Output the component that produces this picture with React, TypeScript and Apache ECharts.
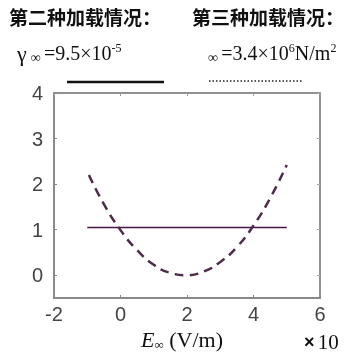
import React, { useEffect, useRef } from "react";
import * as echarts from "echarts";

const lineX = [-1, 5];
const lineY = [1.05, 1.05];
const curveX = [-0.95, -0.5, 0, 0.5, 1, 1.5, 2, 2.5, 3, 3.5, 4, 4.5, 5];
const curveY = [2.2, 1.56, 0.99, 0.55, 0.23, 0.05, 0.0, 0.08, 0.29, 0.62, 1.09, 1.69, 2.42];
const xTicks = [-2, 0, 2, 4, 6];
const yTicks = [0, 1, 2, 3, 4];

export default function App() {
  const ref = useRef<HTMLDivElement>(null);
  useEffect(() => {
    document.body.style.margin = "0";
    const chart = echarts.init(ref.current!, null, { renderer: "svg" });
    const serif = "'Liberation Serif', 'DejaVu Serif', serif";
    const sans = "'Liberation Sans', Arial, sans-serif";
    const cjk = "'Noto Sans CJK SC', sans-serif";
    const tickLabel = { color: "#444", fontSize: 20, fontFamily: sans };
    chart.setOption({
      animation: false,
      grid: {
        show: true, borderColor: "#8a8a8a", borderWidth: 1.5, backgroundColor: "transparent",
        left: 54, top: 93, right: 28, bottom: 62, containLabel: false,
      },
      xAxis: [
        {
          type: "value", min: -2, max: 6, interval: 2,
          axisLine: { show: true, onZero: false, lineStyle: { color: "#808080", width: 1.5 } },
          axisTick: { show: true, inside: true, length: 3, customValues: xTicks, lineStyle: { color: "#888" } },
          axisLabel: { ...tickLabel, margin: 6, customValues: xTicks },
          splitLine: { show: false },
        },
        {
          type: "value", min: -2, max: 6, interval: 2, position: "top",
          axisLine: { show: true, onZero: false, lineStyle: { color: "#8a8a8a", width: 1.5 } },
          axisTick: { show: true, inside: true, length: 3, customValues: xTicks, lineStyle: { color: "#999" } },
          axisLabel: { show: false }, splitLine: { show: false },
        },
      ],
      yAxis: [
        {
          type: "value", min: -0.5, max: 4,
          axisLine: { show: true, onZero: false, lineStyle: { color: "#808080", width: 1.5 } },
          axisTick: { show: true, inside: true, length: 3, customValues: yTicks, lineStyle: { color: "#888" } },
          axisLabel: { ...tickLabel, margin: 11, customValues: yTicks },
          splitLine: { show: false },
        },
        {
          type: "value", min: -0.5, max: 4, position: "right",
          axisLine: { show: true, onZero: false, lineStyle: { color: "#8a8a8a", width: 1.5 } },
          axisTick: { show: true, inside: true, length: 3, customValues: yTicks, lineStyle: { color: "#aaa" } },
          axisLabel: { show: false }, splitLine: { show: false },
        },
      ],
      series: [
        {
          type: "line",
          data: lineX.map((x, i) => [x, lineY[i]]),
          showSymbol: false,
          lineStyle: { color: "#4a1545", width: 1.5 },
        },
        {
          type: "line",
          data: curveX.map((x, i) => [x, curveY[i]]),
          smooth: true,
          showSymbol: false,
          lineStyle: { color: "#4e2a4b", width: 2.5, type: [9, 6] },
        },
      ],
      graphic: [
        { type: "text", left: 9, top: 7, style: { text: "第二种加载情况：", font: `bold 19px ${cjk}`, fill: "#111" } },
        { type: "text", left: 192, top: 7, style: { text: "第三种加载情况：", font: `bold 19px ${cjk}`, fill: "#111" } },
        {
          type: "text", left: 17, top: 42,
          style: {
            text: "{g|γ}{s|∞} {n|=9.5×10}{sup|-5}",
            rich: {
              g: { fontFamily: serif, fontSize: 22, fill: "#111" },
              s: { fontFamily: serif, fontSize: 14, fill: "#111", padding: [8, 0, 0, 4] },
              n: { fontFamily: serif, fontSize: 20, fill: "#111" },
              sup: { fontFamily: serif, fontSize: 12, fill: "#111", padding: [0, 0, 10, 0] },
            },
          },
        },
        {
          type: "text", left: 208, top: 42,
          style: {
            text: "{s|∞} {n|=3.4×10}{sup|6}{n|N/m}{sup|2}",
            rich: {
              s: { fontFamily: serif, fontSize: 14, fill: "#111", padding: [8, 0, 0, 0] },
              n: { fontFamily: serif, fontSize: 20, fill: "#111" },
              sup: { fontFamily: serif, fontSize: 12, fill: "#111", padding: [0, 0, 10, 0] },
            },
          },
        },
        { type: "line", shape: { x1: 67, y1: 82, x2: 164, y2: 82 }, style: { stroke: "#111", lineWidth: 2.5 } },
        { type: "line", shape: { x1: 209, y1: 81, x2: 302, y2: 81 }, style: { stroke: "#222", lineWidth: 1.5, lineDash: [1.5, 2] } },
        {
          type: "text", left: 141, top: 328,
          style: {
            text: "{e|E}{s|∞}{n| (V/m)}",
            rich: {
              e: { fontFamily: serif, fontSize: 22, fontStyle: "italic", fill: "#111" },
              s: { fontFamily: serif, fontSize: 13, fill: "#111", padding: [10, 0, 0, 0] },
              n: { fontFamily: serif, fontSize: 22, fill: "#111" },
            },
          },
        },
        {
          type: "text", left: 304, top: 331,
          style: {
            text: "{x|×} {n|10}",
            rich: {
              x: { fontFamily: sans, fontSize: 18, fontWeight: "bold", fill: "#111" },
              n: { fontFamily: serif, fontSize: 21, fill: "#111" },
            },
          },
        },
      ],
    });
    return () => chart.dispose();
  }, []);
  return <div ref={ref} style={{ position: "fixed", left: 0, top: 0, width: 348, height: 360 }} />;
}
